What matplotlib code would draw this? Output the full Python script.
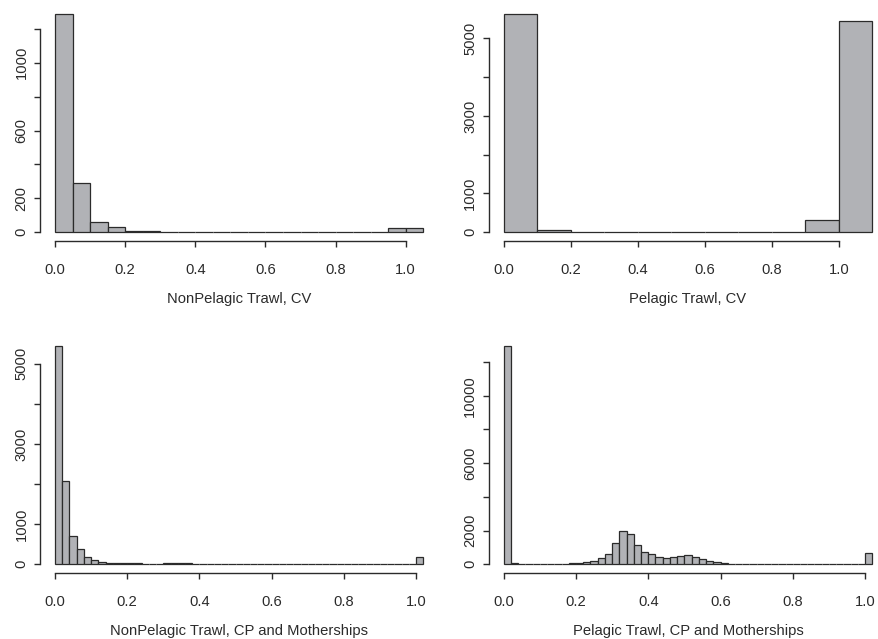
import numpy as np
import matplotlib
matplotlib.use('Agg')
import matplotlib.pyplot as plt

plt.rcParams['font.family'] = ['Liberation Sans', 'DejaVu Sans']

# Histogram counts (bin left edges start at 0)
# NonPelagic Trawl, CV  -> bin width 0.05
np_cv_width = 0.05
np_cv_counts = [1286, 289, 62, 31, 5, 8, 3, 3, 2, 0, 0, 0, 0, 2, 0, 0, 0, 0, 0, 27, 23]

# Pelagic Trawl, CV -> bin width 0.1
p_cv_width = 0.1
p_cv_counts = [5626, 60, 10, 15, 5, 3, 3, 5, 10, 317, 5454]

# NonPelagic Trawl, CP and Motherships -> bin width 0.02
np_cp_width = 0.02
np_cp_counts = [5448, 2085, 714, 374, 183, 108, 60, 40, 35, 28,
                25, 20, 15, 15, 18, 20, 28, 25, 20, 15,
                10, 5, 3, 3, 3, 3, 3, 3, 3, 3,
                3, 3, 3, 3, 3, 3, 3, 3, 3, 3,
                3, 3, 3, 3, 3, 3, 3, 3, 3, 3,
                190]

# Pelagic Trawl, CP and Motherships -> bin width 0.02
p_cp_width = 0.02
p_cp_counts = [12964, 50, 10, 10, 10, 20, 20, 25, 35, 55,
               80, 140, 220, 395, 630, 1265, 1965, 1779, 1126, 750,
               593, 415, 395, 435, 514, 553, 455, 296, 198, 120,
               80, 40, 25, 15, 5, 5, 5, 5, 5, 5,
               5, 5, 5, 5, 5, 5, 5, 5, 5, 5,
               672]

labels = ['NonPelagic Trawl, CV', 'Pelagic Trawl, CV',
          'NonPelagic Trawl, CP and Motherships', 'Pelagic Trawl, CP and Motherships']

# y ticks: all tick positions, and which ones get a label (R drops crowded labels)
y_ticks = [np.arange(0, 1201, 200), np.arange(0, 5001, 1000),
           np.arange(0, 5001, 1000), np.arange(0, 12001, 2000)]
y_shown = [[0, 200, 600, 1000], [0, 1000, 3000, 5000],
           [0, 1000, 3000, 5000], [0, 2000, 6000, 10000]]

x_ticks = [0.0, 0.2, 0.4, 0.6, 0.8, 1.0]

W, H = 879, 639
# axes boxes in pixels: left, right, top, bottom
boxes = [(40.3, 438, 5.5, 241), (489, 887, 5.3, 241),
         (40.3, 438, 337, 573), (489, 887, 337, 573)]

data = [(np_cv_width, np_cv_counts), (p_cv_width, p_cv_counts),
        (np_cp_width, np_cp_counts), (p_cp_width, p_cp_counts)]

fill = '#b1b2b6'
edge = '#2b2b2b'
txt = '#2b2b2b'
fs = 10.6

fig = plt.figure(figsize=(W / 100, H / 100), dpi=100)

for i in range(4):
    l, r, t, b = boxes[i]
    ax = fig.add_axes([l / W, 1 - b / H, (r - l) / W, (b - t) / H])
    width, counts = data[i]
    counts = np.array(counts, dtype=float)
    edges = np.arange(len(counts)) * width
    ax.bar(edges, counts, width=width, align='edge', color=fill,
           edgecolor=edge, linewidth=0.9)

    hi = len(counts) * width
    ax.set_xlim(-0.04 * hi, hi * 1.04)
    ax.set_ylim(-0.04 * counts.max(), counts.max() * 1.04)

    for s in ['top', 'right']:
        ax.spines[s].set_visible(False)
    ax.spines['left'].set_bounds(y_ticks[i][0], y_ticks[i][-1])
    ax.spines['bottom'].set_bounds(0, 1.0)
    for s in ['left', 'bottom']:
        ax.spines[s].set_color(edge)
        ax.spines[s].set_linewidth(1.0)

    ax.set_xticks(x_ticks)
    ax.set_xticklabels(['%.1f' % v for v in x_ticks])
    ax.set_yticks(y_ticks[i])
    ax.set_yticklabels([str(v) if v in y_shown[i] else '' for v in y_ticks[i]],
                       rotation=90, va='center')
    ax.tick_params(axis='x', length=4.5, width=1.0, color=edge, pad=11,
                   labelsize=fs, labelcolor=txt)
    ax.tick_params(axis='y', length=4.5, width=1.0, color=edge, pad=4,
                   labelsize=fs, labelcolor=txt)
    ax.set_xlabel(labels[i], fontsize=fs, color=txt, labelpad=11)
    ax.patch.set_alpha(0)

fig.savefig('out.png', dpi=100)
